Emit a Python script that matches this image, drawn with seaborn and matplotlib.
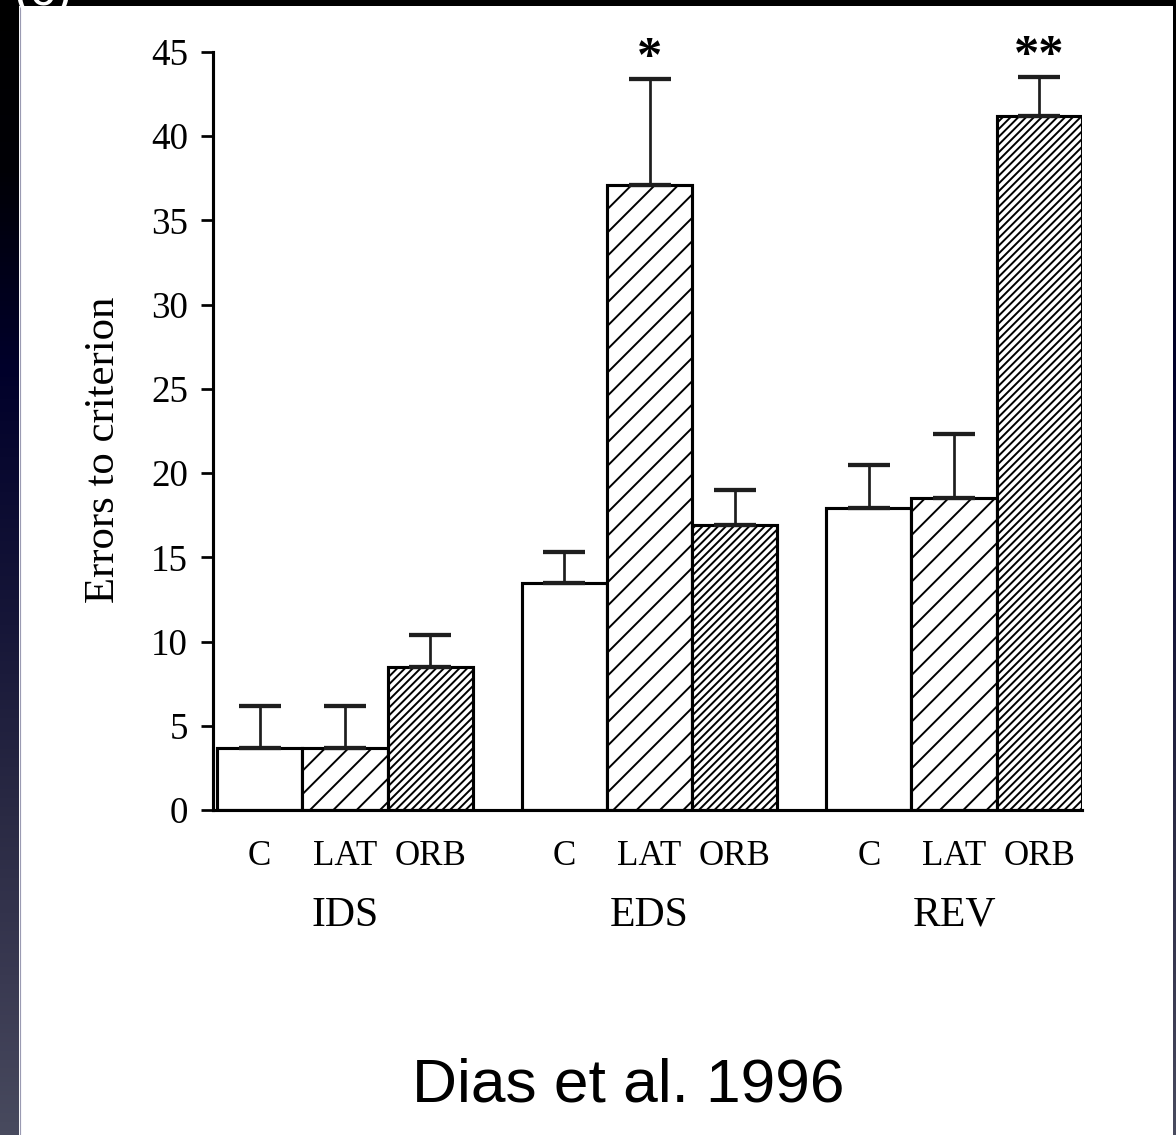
import numpy as np
import pandas as pd
import matplotlib
matplotlib.use("Agg")
import matplotlib.pyplot as plt
from matplotlib.colors import LinearSegmentedColormap
from matplotlib.patches import Rectangle
from matplotlib.lines import Line2D
import seaborn as sns

# ---- data -------------------------------------------------------------
tasks = ["IDS", "EDS", "REV"]
groups = ["C", "LAT", "ORB"]
errors_C = [3.7, 13.5, 17.9]
errors_LAT = [3.7, 37.1, 18.5]
errors_ORB = [8.5, 16.9, 41.2]
sem_C = [2.5, 1.8, 2.6]
sem_LAT = [2.5, 6.3, 3.8]
sem_ORB = [1.9, 2.1, 2.3]
significance = {("EDS", "LAT"): "*", ("REV", "ORB"): "**"}
yticks = list(range(0, 50, 5))
caption = "Dias et al. 1996"

means = {"C": errors_C, "LAT": errors_LAT, "ORB": errors_ORB}
sems = {"C": sem_C, "LAT": sem_LAT, "ORB": sem_ORB}
rows = []
for g in groups:
    for t, m, s in zip(tasks, means[g], sems[g]):
        rows.append({"task": t, "group": g, "errors": m, "sem": s})
df = pd.DataFrame(rows)

# ---- style ------------------------------------------------------------
sns.set_theme(style="ticks")
plt.rcParams["font.family"] = ["Liberation Serif", "DejaVu Serif"]
plt.rcParams["hatch.linewidth"] = 1.0
plt.rcParams["hatch.color"] = "black"
plt.rcParams["text.color"] = "black"
plt.rcParams["axes.labelcolor"] = "black"
plt.rcParams["xtick.color"] = "black"
plt.rcParams["ytick.color"] = "black"

W, H, DPI = 1176, 1135, 140
PX = 72.0 / DPI  # points per pixel
fig = plt.figure(figsize=(W / DPI, H / DPI), dpi=DPI, facecolor="white")

# slide background: dark gradient strips around the white panel
slide_cmap = LinearSegmentedColormap.from_list(
    "slide",
    [(0.0, "#000000"), (0.15, "#000006"), (0.32, "#00002a"),
     (0.55, "#161638"), (0.72, "#2a2a44"), (0.87, "#3a3a52"),
     (1.0, "#484a5e")])
grad = np.linspace(0, 1, 256)[:, None]
for left, width in [(0, 19), (1173, 3)]:
    gax = fig.add_axes([left / W, 0, width / W, 1])
    gax.imshow(grad, aspect="auto", cmap=slide_cmap)
    gax.axis("off")
fig.patches.append(Rectangle((0, 1 - 6 / H), 1, 6 / H, transform=fig.transFigure,
                             facecolor="black", edgecolor="none", zorder=1))
fig.add_artist(Line2D([19.5 / W] * 2, [0, 1 - 6 / H], color="#9a9ab2", lw=0.6))
fig.text(14 / W, 1 - 5 / H, "(c)", color="white", fontsize=26,
         family="Liberation Sans", va="baseline", ha="left", zorder=5)

# ---- bar chart --------------------------------------------------------
ax = fig.add_axes([213 / W, (H - 810) / H, 869 / W, 758 / H])
sns.barplot(data=df, x="task", y="errors", hue="group", order=tasks,
            hue_order=groups, palette={g: "white" for g in groups},
            saturation=1, edgecolor="black", linewidth=1.6, width=0.84,
            errorbar=None, legend=False, ax=ax)

hatches = {"C": "", "LAT": "//", "ORB": "//////"}
centers, tops, errs, sub_labels = [], [], [], []
for g, cont in zip(groups, ax.containers):
    for bar, t, s in zip(cont, tasks, sems[g]):
        bar.set_hatch(hatches[g])
        cx = bar.get_x() + bar.get_width() / 2
        centers.append(cx)
        tops.append(bar.get_height())
        errs.append(s)
        sub_labels.append(g)
        mark = significance.get((t, g))
        if mark:
            ax.annotate(mark, xy=(cx, bar.get_height() + s),
                        xytext=(0, -3 * PX), textcoords="offset points",
                        ha="center", va="bottom", fontsize=26,
                        fontweight="bold", annotation_clip=False)

ax.errorbar(centers, tops, yerr=[np.zeros(len(errs)), errs], fmt="none",
            ecolor="#1e1e1e", elinewidth=1.4, capsize=21 * PX, capthick=2.2,
            zorder=5, clip_on=False)

order = np.argsort(centers)
ax.set_xticks(np.array(centers)[order], labels=np.array(sub_labels)[order])
ax.tick_params(axis="x", length=0, pad=30 * PX, labelsize=18)
for i, t in enumerate(tasks):
    ax.annotate(t, xy=(i, 0), xycoords=("data", "axes fraction"),
                xytext=(0, -116 * PX), textcoords="offset points",
                ha="center", va="baseline", fontsize=21.5)

ax.set_ylim(0, 45)
ax.set_xlim(-0.4335, 2.42)
ax.set_yticks(yticks)
ax.tick_params(axis="y", length=12 * PX, width=1.4, pad=13 * PX, labelsize=19)
ax.set_xlabel("")
ax.set_ylabel("Errors to criterion", fontsize=22, va="center")
ax.yaxis.set_label_coords(-0.1254, 0.475)
sns.despine(ax=ax)
for side in ("left", "bottom"):
    ax.spines[side].set_linewidth(1.6)
    ax.spines[side].set_color("black")

fig.text(628 / W, (H - 1102) / H, caption, family="Liberation Sans",
         fontsize=32, ha="center", va="baseline", color="black")

fig.savefig("out.png", dpi=DPI, facecolor="white")
